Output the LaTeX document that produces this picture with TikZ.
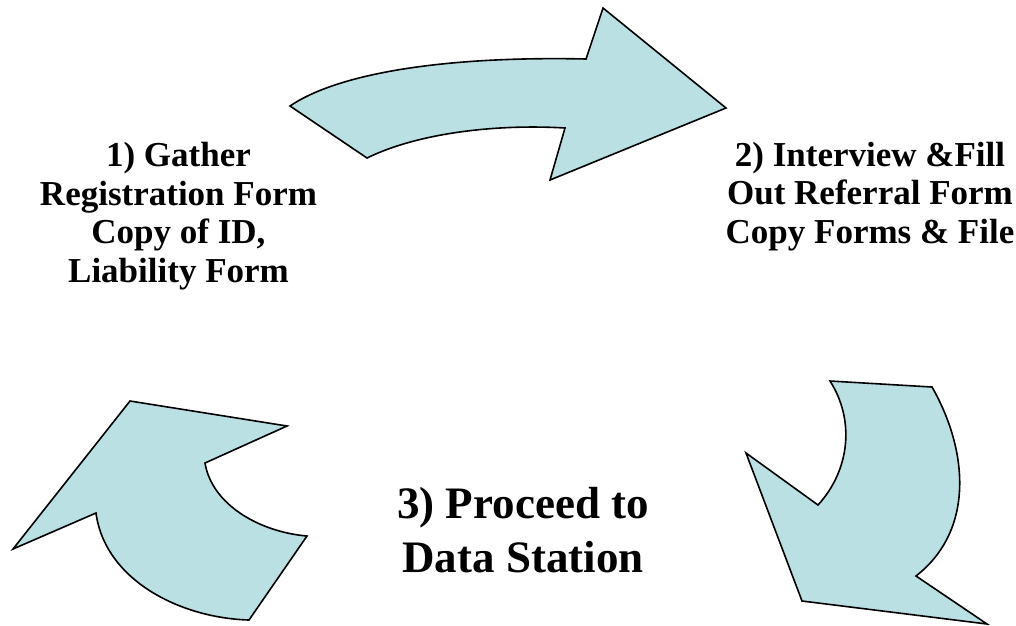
\documentclass[tikz,border=0pt]{standalone}
\usepackage{fontspec}
\setmainfont{Liberation Serif}
\usepackage{tikz}
\definecolor{arrowFill}{RGB}{187,224,227}
\tikzstyle{cycleSheet} = [x = 1pt, y = -1pt]
\tikzstyle{cycleArrow} = [fill=arrowFill, draw=black, line width=1.6pt, line join=miter]
\tikzstyle{stepText} = [align=center, anchor=base, inner sep=0pt, font=\bfseries\fontsize{35}{38.5}\selectfont]
\tikzstyle{bigStepText} = [align=center, anchor=base, inner sep=0pt, font=\bfseries\fontsize{45}{54}\selectfont]

\begin{document}
\begin{tikzpicture}[cycleSheet]
        \useasboundingbox (0,0) rectangle (1016,625);
        % top arrow, 1 -> 2
        \filldraw [cycleArrow] (290,106) .. controls (340,72) and (450,56) .. (586,59) -- (603,8) -- (726,108) -- (550,180) -- (565,128) .. controls (500,124) and (420,132) .. (367,158) -- cycle;
        % right arrow, 2 -> 3
        \filldraw [cycleArrow] (830,381) -- (932,387) .. controls (968,450) and (975,530) .. (916,576) -- (987,624) -- (802,601) -- (746,453) -- (818,505) .. controls (850,470) and (855,420) .. (830,381) -- cycle;
        % left arrow, 3 -> 1
        \filldraw [cycleArrow] (130,401) -- (287,426) -- (205,463) .. controls (212,505) and (260,532) .. (307,536) -- (249,620) .. controls (180,618) and (105,580) .. (96,513) -- (13,549) -- cycle;
        % base anchor sits on the last line
        \node [stepText] (gather) at (178.5,282) {1) Gather\\Registration Form\\Copy of ID,\\Liability Form};
        \node [stepText] (interview) at (870,243) {2) Interview \&Fill\\Out Referral Form\\Copy Forms \& File};
        \node [bigStepText] (proceed) at (523,572) {3) Proceed to\\Data Station};
\end{tikzpicture}
\end{document}
